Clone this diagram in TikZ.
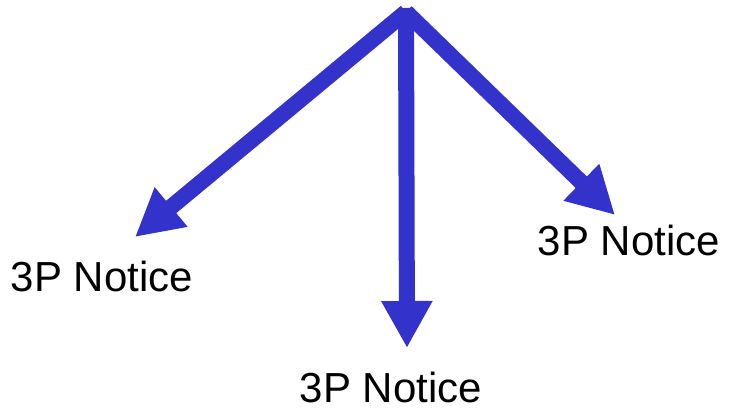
\documentclass[tikz,border=0pt]{standalone}
\usepackage{fontspec}
\setmainfont{Liberation Sans}
\usetikzlibrary{arrows.meta}
\definecolor{noticeblue}{RGB}{51,51,204}

\begin{document}
\begin{tikzpicture}[x=1pt,y=-1pt,
  push/.style={draw=noticeblue,line width=16pt,-{Triangle[length=47pt,width=48pt]}},
  notice/.style={anchor=base,font=\fontsize{42}{48}\selectfont}]
\useasboundingbox (0,0) rectangle (730,411);
\coordinate (top) at (406,12);
\coordinate (topv) at (406,8);
\coordinate (lt) at (135,237);
\coordinate (mt) at (407,348);
\coordinate (rt) at (615,215);

\node[notice] (l) at (102,292) {3P Notice};
\node[notice] (m) at (391,402) {3P Notice};
\node[notice] (r) at (629,256) {3P Notice};

\draw[push] (top) -- (lt);
\draw[push] (top) -- (rt);
\draw[push] (topv) -- (mt);
\end{tikzpicture}
\end{document}
